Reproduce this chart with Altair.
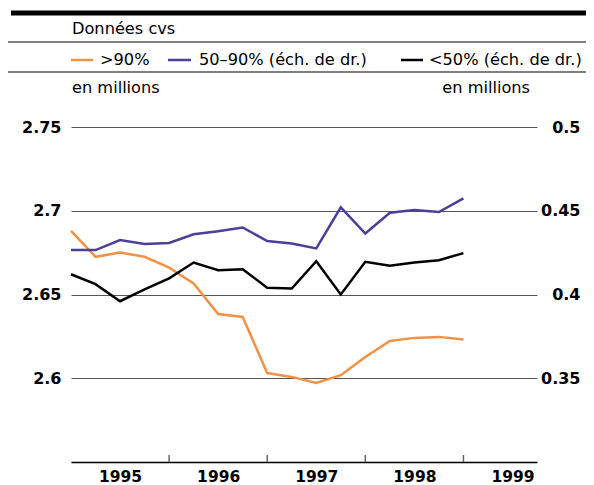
import altair as alt
import pandas as pd

# Quarterly periods 1995T1 .. 1999T1
quarters = ["1995T1", "1995T2", "1995T3", "1995T4",
            "1996T1", "1996T2", "1996T3", "1996T4",
            "1997T1", "1997T2", "1997T3", "1997T4",
            "1998T1", "1998T2", "1998T3", "1998T4",
            "1999T1"]

# >90% (left scale, millions)
over90 = [2.688, 2.6725, 2.675, 2.6725, 2.666, 2.6566, 2.6383, 2.6366,
          2.6031, 2.6008, 2.5972, 2.6018, 2.6127, 2.6223, 2.6241, 2.6247, 2.6231]
# 50-90% (right scale, millions)
mid5090 = [0.4265, 0.4265, 0.4325, 0.4301, 0.4308, 0.4360, 0.4378, 0.4400,
           0.4319, 0.4305, 0.4275, 0.4520, 0.4364, 0.4488, 0.4504, 0.4492, 0.4574]
# <50% (right scale, millions)
under50 = [0.4121, 0.4062, 0.3960, 0.4030, 0.4096, 0.4191, 0.4145, 0.4151,
           0.4040, 0.4036, 0.4199, 0.4000, 0.4195, 0.4171, 0.4191, 0.4205, 0.4247]

years = [1995, 1996, 1997, 1998, 1999]
left_ticks = [2.6, 2.65, 2.7, 2.75]
right_ticks = [0.35, 0.4, 0.45, 0.5]

FONT = "DejaVu Sans"
ORANGE = "#F39244"
BLUE = "#4B3F9B"

def qpos(q):
    return int(q[:4]) + (int(q[-1]) - 1) / 4.0

df = pd.DataFrame({
    "t": [qpos(q) for q in quarters],
    "over90": over90,
    "mid": mid5090,
    "under": under50,
})

xscale = alt.Scale(domain=[1995, 1999.75], nice=False, zero=False)

xaxis = alt.Axis(values=[y + 0.5 for y in years], labelExpr="floor(datum.value)",
                 ticks=False, domainColor="black", domainWidth=1.5, grid=False,
                 labelFont=FONT, labelFontWeight="bold", labelFontSize=15.5,
                 labelColor="black", labelPadding=7, title=None)

left = alt.Chart(df).mark_line(color=ORANGE, strokeWidth=2.5).encode(
    x=alt.X("t:Q", scale=xscale, axis=xaxis),
    y=alt.Y("over90:Q", scale=alt.Scale(domain=[2.55, 2.75], nice=False, zero=False),
            axis=alt.Axis(values=left_ticks, orient="left", grid=True, gridColor="#555",
                          gridWidth=1.2, domain=False, ticks=False, labelPadding=10,
                          format=".2~f",
                          labelFont=FONT, labelFontWeight="bold", labelFontSize=16,
                          labelColor="black", title=None)),
)

rscale = alt.Scale(domain=[0.3, 0.5], nice=False, zero=False)
raxis = alt.Axis(values=right_ticks, orient="right", grid=False, domain=False, ticks=False,
                 labelAlign="right", labelPadding=43, labelFont=FONT, format=".2~f",
                 labelFontWeight="bold", labelFontSize=16, labelColor="black", title=None)

base_r = alt.Chart(df).transform_fold(["mid", "under"], as_=["series", "value"])
right = base_r.mark_line(strokeWidth=2.5).encode(
    x=alt.X("t:Q", scale=xscale, axis=xaxis),
    y=alt.Y("value:Q", scale=rscale, axis=raxis),
    color=alt.Color("series:N", scale=alt.Scale(domain=["mid", "under"],
                                                range=[BLUE, "black"]), legend=None),
)

# year separator ticks pointing up from the axis
tick_df = pd.DataFrame({"yr": years[1:]})
ticks = alt.Chart(tick_df).mark_rule(color="#666", strokeWidth=1.5).encode(
    x=alt.X("yr:Q", scale=xscale, axis=xaxis),
    y=alt.value(328), y2=alt.value(335),
)

one = pd.DataFrame({"a": [0]})

def hrule(x1, x2, y, w, color="black"):
    return alt.Chart(one).mark_rule(color=color, strokeWidth=w).encode(
        x=alt.value(x1), x2=alt.value(x2), y=alt.value(y))

def txt(s, x, y, align="left"):
    return alt.Chart(one).mark_text(text=s, align=align, baseline="middle", font=FONT,
                                    fontSize=16.2, color="black").encode(
        x=alt.value(x), y=alt.value(y))

def swatch(x1, x2, y, color):
    return alt.Chart(one).mark_rule(color=color, strokeWidth=2.5).encode(
        x=alt.value(x1), x2=alt.value(x2), y=alt.value(y))

decor = [
    hrule(-60, 523, -114, 5),
    txt("Données cvs", 1, -98),
    hrule(-63, 523, -85, 1.2),
    swatch(0, 22, -67, ORANGE), txt(">90%", 29, -67),
    swatch(97, 120, -67, BLUE), txt("50–90% (éch. de dr.)", 128, -67),
    swatch(330, 352, -67, "black"), txt("<50% (éch. de dr.)", 358, -67),
    hrule(-63, 523, -55, 1.2),
    txt("en millions", 1, -39),
    txt("en millions", 459, -39, align="right"),
]

chart = alt.layer(left, right, ticks, *decor).resolve_scale(y="independent").properties(
    width=466, height=335,
    padding={"left": 63, "top": 119, "right": 49, "bottom": 23},
    autosize=alt.AutoSizeParams(type="none"),
).configure_view(stroke=None)

chart.save("out.html", embed_options={"renderer": "svg", "actions": False})
